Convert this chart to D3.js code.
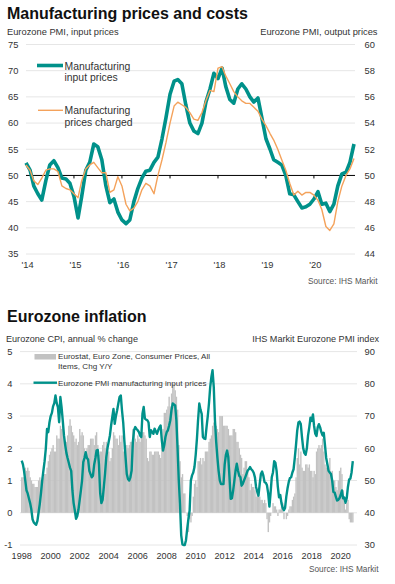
<!DOCTYPE html>
<html><head><meta charset="utf-8">
<script src="https://cdn.jsdelivr.net/npm/d3@7"></script>
<style>
html,body{margin:0;padding:0;background:#fff;}
svg{display:block;font-family:"Liberation Sans",Arial,sans-serif;}
</style></head>
<body>
<svg id="c" width="395" height="584"></svg>
<script>
// ---------- Top chart data (monthly, Jan 2014 - Nov 2020) ----------
const topStart = [2014, 0];
const inputPrices = [
  52.4,51.0,48.0,46.5,45.3,49.0,52.0,52.8,51.5,49.5,49.3,48.5,
  46.0,41.9,46.0,51.0,52.5,56.0,55.5,53.0,48.0,44.8,45.5,43.0,
  41.5,40.8,41.5,45.0,47.5,49.5,50.8,51.0,52.5,53.5,57.0,61.0,
  65.5,68.0,68.3,67.5,63.5,60.0,58.5,58.0,60.0,64.0,66.5,69.5,
  68.5,70.5,67.0,64.5,63.8,66.5,67.5,66.5,65.0,64.0,64.8,61.0,
  57.0,55.0,53.0,52.5,52.0,50.0,46.5,46.3,45.0,43.8,44.0,44.5,
  45.5,46.9,44.5,44.7,43.1,44.5,48.0,50.3,50.6,52.5,56.0
];
const outputPrices = [
  50.8,50.4,49.6,49.3,49.8,50.4,50.5,50.5,50.3,49.2,49.0,48.9,
  48.6,48.3,49.6,50.5,50.8,51.0,50.6,50.2,50.2,48.7,48.9,49.9,
  49.2,47.8,47.3,47.5,48.0,48.9,49.4,49.2,48.6,50.0,51.2,52.5,
  54.0,55.3,55.6,55.4,55.2,54.8,54.3,54.2,54.8,55.7,56.5,56.4,
  58.2,58.3,57.6,57.0,56.4,56.0,55.7,55.5,55.5,55.2,54.9,54.3,
  53.8,53.2,52.7,52.0,51.2,50.4,49.4,48.5,48.8,48.5,48.7,48.7,
  48.5,48.1,47.4,46.1,45.8,46.3,48.0,49.2,50.0,50.5,51.3
];
const topLeftTicks = [35,40,45,50,55,60,65,70,75];
const topRightTicks = [44,46,48,50,52,54,56,58,60];
const topYearLabels = ["'14","'15","'16","'17","'18","'19","'20"];

// ---------- Bottom chart data (monthly, Jan 1998 - Nov 2020) ----------
const botStart = [1998, 0];
const cpiYoY = [
  1.1,1.1,1.1,1.4,1.3,1.4,1.3,1.1,1.0,0.9,0.9,0.8,
  0.8,0.8,1.0,1.1,1.0,0.9,1.1,1.2,1.2,1.4,1.6,1.8,
  1.9,2.0,2.1,1.9,1.9,2.4,2.3,2.3,2.7,2.6,2.7,2.5,
  2.2,2.2,2.4,2.7,2.9,2.7,2.5,2.4,2.2,2.3,2.1,2.2,
  2.6,2.4,2.5,2.4,2.0,1.9,2.0,2.1,2.1,2.3,2.3,2.3,
  2.1,2.4,2.5,2.1,1.8,1.9,1.9,2.1,2.2,2.0,2.2,2.0,
  1.9,1.6,1.7,2.0,2.5,2.4,2.3,2.3,2.1,2.4,2.2,2.4,
  1.9,2.1,2.1,2.1,2.0,2.1,2.2,2.2,2.6,2.5,2.3,2.2,
  2.4,2.3,2.2,2.5,2.5,2.5,2.4,2.3,1.7,1.6,1.9,1.9,
  1.8,1.8,1.9,1.9,1.9,1.9,1.8,1.7,2.1,2.6,3.1,3.1,
  3.2,3.3,3.6,3.3,3.7,4.0,4.0,3.8,3.6,3.2,2.1,1.6,
  1.1,1.2,0.6,0.6,0.0,-0.1,-0.6,-0.2,-0.3,-0.1,0.5,0.9,
  1.0,0.8,1.6,1.6,1.7,1.5,1.7,1.6,1.9,1.9,1.9,2.2,
  2.3,2.4,2.7,2.8,2.7,2.7,2.6,2.5,3.0,3.0,3.0,2.7,
  2.7,2.7,2.7,2.6,2.4,2.4,2.4,2.6,2.6,2.5,2.2,2.2,
  2.0,1.8,1.7,1.2,1.4,1.6,1.6,1.3,1.1,0.7,0.9,0.8,
  0.8,0.7,0.5,0.7,0.5,0.5,0.4,0.4,0.3,0.4,0.3,-0.2,
  -0.6,-0.3,-0.1,0.0,0.3,0.2,0.2,0.1,-0.1,0.1,0.1,0.2,
  0.3,-0.2,0.0,-0.2,-0.1,0.1,0.2,0.2,0.4,0.5,0.6,1.1,
  1.7,2.0,1.5,1.9,1.4,1.3,1.3,1.5,1.5,1.4,1.5,1.3,
  1.3,1.1,1.3,1.2,1.9,2.0,2.1,2.0,2.1,2.3,1.9,1.5,
  1.4,1.5,1.4,1.7,1.2,1.3,1.0,1.0,0.8,0.7,1.0,1.3,
  1.4,1.2,0.7,0.3,0.1,0.3,0.4,-0.2,-0.3,-0.3,-0.3
];
// PMI input prices 1998-2013 (2014 onwards = inputPrices above)
const pmiInputEarly = [
  56.2,55.0,53.0,50.0,47.0,46.0,44.5,43.0,41.0,38.0,37.0,36.6,
  36.3,37.5,40.0,42.7,46.0,50.0,53.0,56.0,60.0,66.0,65.0,68.0,
  70.0,71.0,73.0,74.0,76.4,74.0,72.8,68.1,75.9,72.8,68.5,64.0,
  61.0,58.5,57.0,55.5,54.0,53.0,47.0,43.0,40.7,38.1,39.0,41.0,
  44.0,47.0,50.0,55.7,57.0,58.8,57.0,56.5,53.0,52.0,51.0,51.5,
  55.0,57.0,59.3,59.5,55.0,46.0,43.0,44.0,48.0,52.1,57.2,60.0,
  62.0,64.0,67.0,69.7,72.2,67.6,70.0,71.8,74.0,75.9,76.4,71.8,
  68.0,62.0,57.2,52.0,50.5,50.0,51.0,53.1,62.0,65.6,66.6,66.0,
  65.6,65.0,64.0,63.5,70.7,72.8,69.2,68.9,68.7,68.0,63.5,65.6,
  65.0,64.5,66.1,65.3,64.5,65.6,66.5,67.1,62.4,59.3,61.0,63.5,
  65.0,65.6,67.0,68.7,71.8,73.9,73.6,73.3,68.7,60.0,50.0,42.7,
  33.0,30.2,30.0,30.0,31.5,35.0,38.0,40.7,50.0,51.6,52.5,54.2,
  58.0,63.0,68.7,73.9,72.0,70.7,63.5,63.0,62.9,66.6,70.0,73.9,
  79.0,82.2,84.2,79.0,68.7,62.0,57.2,53.0,50.0,48.9,48.9,48.9,
  55.0,58.0,59.3,57.2,51.0,44.3,44.5,46.9,50.0,53.1,55.2,53.1,
  51.5,51.0,48.4,49.0,50.0,51.0,52.0,53.1,53.5,54.2,53.5,53.1
];
const botLeftTicks = [-1,0,1,2,3,4,5];
const botRightTicks = [30,40,50,60,70,80,90];
const botYearLabels = ["1998","2000","2002","2004","2006","2008","2010","2012","2014","2016","2018","2020"];

const TEAL = "#00918a", ORANGE = "#f4a25b", GRAY = "#c2c2c2", GRID = "#e6e6e6", TXT = "#333";

const svg = d3.select("#c");

// ================= TOP CHART =================
const topDates = inputPrices.map((d,i)=>new Date(topStart[0], topStart[1]+i, 1));
const xT = d3.scaleTime().domain([topDates[0], topDates[topDates.length-1]]).range([26, 354]);
const yTL = d3.scaleLinear().domain([35,75]).range([254,44.5]);
const yTR = d3.scaleLinear().domain([44,60]).range([254,44.5]);

svg.append("text").attr("x",7).attr("y",18.5).attr("font-size",16).attr("font-weight","bold").attr("fill","#111")
  .text("Manufacturing prices and costs");
svg.append("text").attr("x",7).attr("y",34.5).attr("font-size",9.3).attr("fill",TXT).text("Eurozone PMI, input prices");
svg.append("text").attr("x",377.5).attr("y",34.5).attr("font-size",9.3).attr("fill",TXT).attr("text-anchor","end").text("Eurozone PMI, output prices");

const gT = svg.append("g");
gT.selectAll("line.grid").data(topLeftTicks.filter(v=>v!==50)).join("line")
  .attr("x1",26).attr("x2",355).attr("y1",d=>yTL(d)).attr("y2",d=>yTL(d))
  .attr("stroke",GRID).attr("stroke-width",1);
gT.selectAll("text.l").data(topLeftTicks).join("text")
  .attr("x",8).attr("y",d=>yTL(d)).attr("dy","0.35em").attr("font-size",9.3).attr("fill",TXT).text(d=>d);
gT.selectAll("text.r").data(topRightTicks).join("text")
  .attr("x",364.5).attr("y",d=>yTR(d)).attr("dy","0.35em").attr("font-size",9.3).attr("fill",TXT).text(d=>d);

// 50 line with year ticks
gT.append("line").attr("x1",26).attr("x2",355).attr("y1",yTL(50)).attr("y2",yTL(50)).attr("stroke","#000").attr("stroke-width",1);
const topYears = topYearLabels.map((d,i)=>new Date(2014+i,0,1));
gT.selectAll("line.tk").data(topYears.slice(1)).join("line")
  .attr("x1",d=>xT(d)).attr("x2",d=>xT(d)).attr("y1",yTL(50)).attr("y2",yTL(50)+3)
  .attr("stroke","#000").attr("stroke-width",1);
gT.selectAll("text.x").data(topYears).join("text")
  .attr("x",d=>xT(d)+1.5).attr("y",268).attr("text-anchor","middle").attr("font-size",9.3).attr("fill",TXT)
  .text((d,i)=>topYearLabels[i]);

const lineTL = d3.line().x((d,i)=>xT(topDates[i])).y(d=>yTL(d));
const lineTR = d3.line().x((d,i)=>xT(topDates[i])).y(d=>yTR(d));
gT.append("path").attr("d",lineTL(inputPrices)).attr("fill","none").attr("stroke",TEAL).attr("stroke-width",3.6).attr("stroke-linejoin","round");
gT.append("path").attr("d",lineTR(outputPrices)).attr("fill","none").attr("stroke",ORANGE).attr("stroke-width",1.4).attr("stroke-linejoin","round");

// legend
gT.append("line").attr("x1",37).attr("x2",63).attr("y1",65.5).attr("y2",65.5).attr("stroke",TEAL).attr("stroke-width",3.6);
gT.append("text").attr("x",64.5).attr("y",69.5).attr("font-size",10.4).attr("fill",TXT)
  .selectAll("tspan").data(["Manufacturing","input prices"]).join("tspan").attr("x",64.5).attr("dy",(d,i)=>i?11.8:0).text(d=>d);
gT.append("line").attr("x1",38).attr("x2",63).attr("y1",110.3).attr("y2",110.3).attr("stroke",ORANGE).attr("stroke-width",1.4);
gT.append("text").attr("x",64.5).attr("y",114.3).attr("font-size",10.4).attr("fill",TXT)
  .selectAll("tspan").data(["Manufacturing","prices charged"]).join("tspan").attr("x",64.5).attr("dy",(d,i)=>i?11.8:0).text(d=>d);

svg.append("text").attr("x",377.5).attr("y",284).attr("text-anchor","end").attr("font-size",8.3).attr("fill","#555").text("Source: IHS Markit");

// ================= BOTTOM CHART =================
const pmiInputAll = pmiInputEarly.concat(inputPrices);
const botDates = cpiYoY.map((d,i)=>new Date(botStart[0], botStart[1]+i, 1));
const xB = d3.scaleTime().domain([botDates[0], botDates[botDates.length-1]]).range([21.7, 352.8]);
const yC = d3.scaleLinear().domain([-1,5]).range([545,351.6]);
const yP = d3.scaleLinear().domain([30,90]).range([545,351.6]);

svg.append("text").attr("x",7).attr("y",321.7).attr("font-size",16).attr("font-weight","bold").attr("fill","#111").text("Eurozone inflation");
svg.append("text").attr("x",6).attr("y",342).attr("font-size",9.1).attr("fill",TXT).text("Eurozone CPI, annual % change");
svg.append("text").attr("x",379).attr("y",342).attr("font-size",9.1).attr("fill",TXT).attr("text-anchor","end").text("IHS Markit Eurozone PMI index");

const gB = svg.append("g");
gB.selectAll("line.grid").data(botLeftTicks).join("line")
  .attr("x1",20).attr("x2",357).attr("y1",d=>yC(d)).attr("y2",d=>yC(d)).attr("stroke",GRID).attr("stroke-width",1);
gB.selectAll("text.l").data(botLeftTicks).join("text")
  .attr("x",12.5).attr("y",d=>yC(d)).attr("dy","0.35em").attr("text-anchor","end").attr("font-size",9.3).attr("fill",TXT).text(d=>d);
gB.selectAll("text.r").data(botRightTicks).join("text")
  .attr("x",364.5).attr("y",d=>yP(d)).attr("dy","0.35em").attr("font-size",9.3).attr("fill",TXT).text(d=>d);
const botYears = botYearLabels.map(d=>new Date(+d,0,1));
gB.selectAll("text.x").data(botYears).join("text")
  .attr("x",d=>xB(d)).attr("y",559).attr("text-anchor","middle").attr("font-size",9.1).attr("fill",TXT)
  .text((d,i)=>botYearLabels[i]);

const step = xB(botDates[1]) - xB(botDates[0]);
gB.selectAll("rect.cpi").data(cpiYoY).join("rect")
  .attr("x",(d,i)=>xB(botDates[i]) - step/2)
  .attr("width",step+0.15)
  .attr("y",d=>Math.min(yC(d),yC(0)))
  .attr("height",d=>Math.abs(yC(d)-yC(0)))
  .attr("fill",GRAY);

const lineB = d3.line().x((d,i)=>xB(botDates[i])).y(d=>yP(d));
gB.append("path").attr("d",lineB(pmiInputAll)).attr("fill","none").attr("stroke",TEAL).attr("stroke-width",2.4).attr("stroke-linejoin","round");

// legend
gB.append("rect").attr("x",34.5).attr("y",354).attr("width",21.5).attr("height",5.5).attr("fill",GRAY);
gB.append("text").attr("x",58).attr("y",359.3).attr("font-size",8.1).attr("fill",TXT)
  .selectAll("tspan").data(["Eurostat, Euro Zone, Consumer Prices, All","Items, Chg Y/Y"]).join("tspan")
  .attr("x",58).attr("dy",(d,i)=>i?10:0).text(d=>d);
gB.append("line").attr("x1",33.5).attr("x2",57).attr("y1",382.7).attr("y2",382.7).attr("stroke",TEAL).attr("stroke-width",2.4);
gB.append("text").attr("x",58).attr("y",385.7).attr("font-size",8.1).attr("fill",TXT).text("Eurozone PMI manufacturing input prices");

svg.append("text").attr("x",378.5).attr("y",571.5).attr("text-anchor","end").attr("font-size",8.3).attr("fill","#555").text("Source: IHS Markit");
</script>
</body></html>
